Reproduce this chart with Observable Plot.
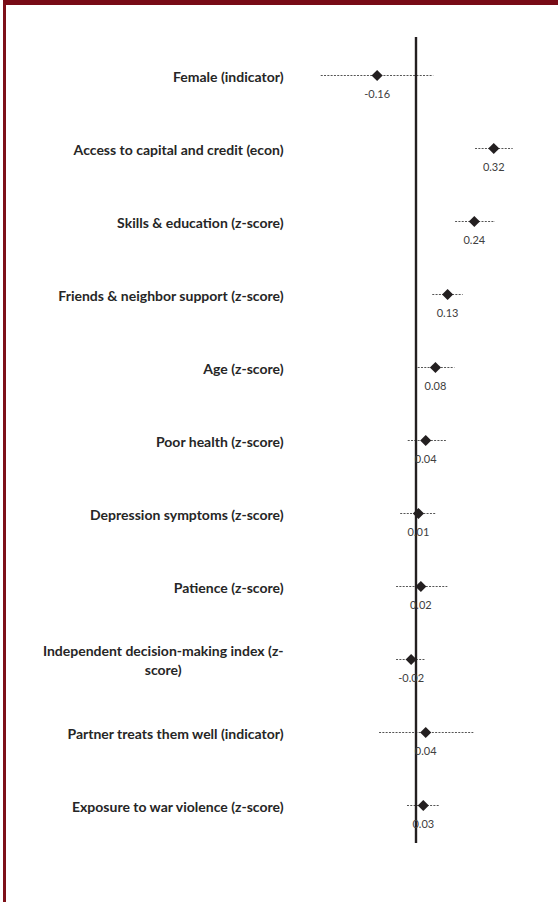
<!DOCTYPE html>
<html>
<head>
<meta charset="utf-8">
<script src="https://cdn.jsdelivr.net/npm/d3@7"></script>
<script src="https://cdn.jsdelivr.net/npm/@observablehq/plot@0.6"></script>
<style>
  html, body { margin: 0; padding: 0; background: #fff; }
  #wrap { position: relative; width: 558px; height: 902px; overflow: hidden; background: #fff; }
  #frame { position: absolute; left: 3px; top: 0; right: 0; bottom: 0;
           border-top: 5px solid #780b16; border-left: 3px solid #7e1019; pointer-events: none; }
  #chart { position: absolute; left: 0; top: 0; }
</style>
</head>
<body>
<div id="wrap"><div id="chart"></div><div id="frame"></div></div>
<script>
const labels = [
  "Female (indicator)",
  "Access to capital and credit (econ)",
  "Skills & education (z-score)",
  "Friends & neighbor support (z-score)",
  "Age (z-score)",
  "Poor health (z-score)",
  "Depression symptoms (z-score)",
  "Patience (z-score)",
  "Independent decision-making index (z-\nscore)",
  "Partner treats them well (indicator)",
  "Exposure to war violence (z-score)"
];
const estimates = [-0.16, 0.32, 0.24, 0.13, 0.08, 0.04, 0.01, 0.02, -0.02, 0.04, 0.03];
const lower = [-0.39, 0.245, 0.163, 0.069, 0.009, -0.032, -0.063, -0.08, -0.08, -0.15, -0.035];
const upper = [0.073, 0.40, 0.327, 0.194, 0.16, 0.125, 0.084, 0.131, 0.039, 0.238, 0.098];

const data = labels.map((label, i) => ({
  label, est: estimates[i], lo: lower[i], hi: upper[i], text: estimates[i].toFixed(2)
}));

const labelFont = "Lato, 'Open Sans', sans-serif";

const plot = Plot.plot({
  width: 558,
  height: 902,
  marginLeft: 294,
  marginRight: 21,
  marginTop: 37,
  marginBottom: 59,
  x: { domain: [-0.5, 0.5], axis: null },
  y: { type: "point", domain: labels, axis: null, padding: 0.5 },
  style: { background: "transparent", overflow: "visible" },
  marks: [
    Plot.ruleY(data, { y: "label", x1: "lo", x2: "hi", stroke: "#555", strokeWidth: 1, strokeDasharray: "2,1.3" }),
    Plot.ruleX([0], { stroke: "#231f20", strokeWidth: 2.4 }),
    Plot.dot(data, { x: "est", y: "label", symbol: "diamond2", r: 5, fill: "#231f20", stroke: "none" }),
    Plot.text(data, { x: "est", y: "label", text: "text", dy: 19, fill: "#404040", fontSize: 11, fontFamily: labelFont }),
    Plot.text(data, { y: "label", text: "label", frameAnchor: "left", textAnchor: "end", dx: -11,
      fill: "#262626", fontSize: 14, fontWeight: "bold", fontFamily: labelFont, lineHeight: 1.35 })
  ]
});
document.getElementById("chart").appendChild(plot);

// Excel-style wrapped label: centre the continuation line under the first line
plot.querySelectorAll("text").forEach(t => {
  const spans = t.querySelectorAll("tspan");
  if (spans.length === 2) {
    const w = spans[0].getComputedTextLength();
    spans[1].setAttribute("x", -w / 2);
    spans[1].setAttribute("text-anchor", "middle");
  }
});
</script>
</body>
</html>
